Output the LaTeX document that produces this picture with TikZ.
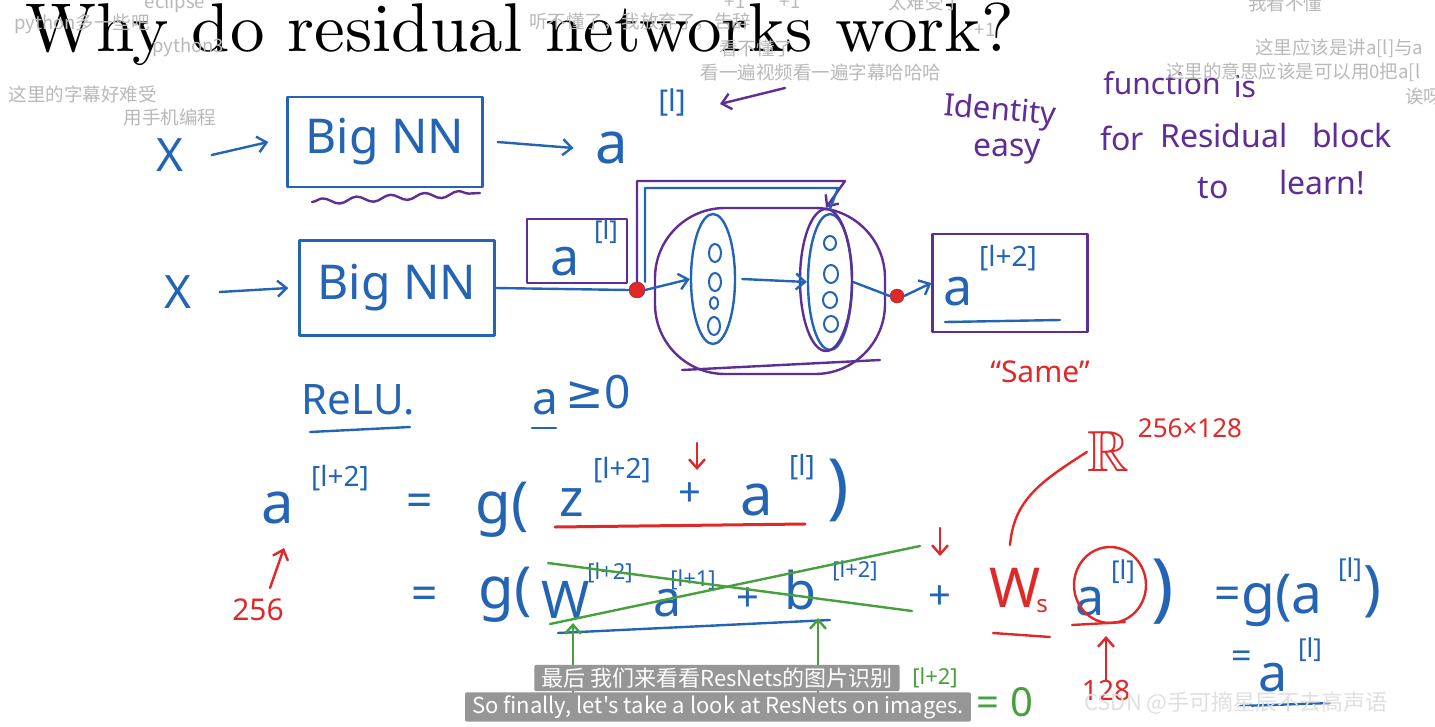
\documentclass[tikz,border=0pt]{standalone}
\usepackage{amssymb}
\usepackage{fontspec}
\usetikzlibrary{arrows.meta,decorations.pathmorphing,shapes.geometric}
\newfontfamily\cjk{Noto Sans CJK SC}
\newfontfamily\hand{Noto Sans}
\newfontfamily\symf{DejaVu Sans}
\newfontfamily\titlef{lmroman10-regular.otf}
\definecolor{ib}{RGB}{35,100,180}
\definecolor{ip}{RGB}{95,45,150}
\definecolor{ir}{RGB}{225,40,40}
\definecolor{ig}{RGB}{70,160,60}
\definecolor{dm}{RGB}{185,185,185}
\definecolor{subg}{RGB}{150,150,150}
\newcommand{\hs}[1]{\hand\fontsize{#1}{#1}\selectfont}
\begin{document}
\begin{tikzpicture}[x=1pt,y=-1pt,
  ink/.style={line width=2.4pt,line cap=round,line join=round},
  arr/.style={ink,-{Straight Barb[length=9pt,width=16pt,line width=2.4pt]}},
  hw/.style={inner sep=0pt,font=\hs{#1}},
  hw/.default=45,
  dmk/.style={inner sep=0pt,text=dm,font=\cjk\fontsize{18.5}{18.5}\selectfont},
  subbox/.style={fill=subg,rounded corners=2pt,text=white,inner xsep=7pt,inner ysep=3pt,font=\cjk\fontsize{22}{22}\selectfont},
  boxb/.style={draw=ib,ink,minimum width=#1,inner sep=0pt},
  reddot/.style={circle,fill=ir,draw=ir!70!black,minimum size=16pt,inner sep=0pt}
]
\fill[white] (0,0) rectangle (1435,726);
\useasboundingbox (0,0) rectangle (1435,726);

% title
\node[anchor=base west,inner sep=0pt,font=\titlef\fontsize{69}{69}\selectfont] (title) at (25,51) {Why do residual networks work?};

% ---------- row 1
\node[hw=46,text=ib] (x1) at (170,155) {X};
\node[boxb=195,minimum height=90,hw=48,text=ib] (bn1) at (385,142) {Big NN};
\draw[arr,ib] ([xshift=28pt]x1.east) -- ([xshift=-18pt]bn1.west);
\node[hw=58,text=ib] (a1) at (612,148) {a};
\node[hw=30,text=ib] (s1) at (672,102) {[l]};
\draw[arr,ib] ([xshift=14pt]bn1.east) -- ([xshift=-22pt]a1.west);
\draw[ink,ip,decorate,decoration={snake,amplitude=3pt,segment length=34pt}] (312,202) -- (480,193);
\coordinate (pa) at (785,88);
\draw[arr,ip] (pa) -- (720,104);

% ---------- row 2
\node[hw=46,text=ib] (x2) at (178,292) {X};
\node[boxb=195,minimum height=95,hw=48,text=ib] (bn2) at (397,288) {Big NN};
\draw[arr,ib] ([xshift=28pt]x2.east) -- ([xshift=-10pt]bn2.west);
\node[draw=ip,ink,minimum width=100,minimum height=64,inner sep=0pt] (albox) at (577,251) {};
\node[hw=52,text=ib] (al) at (565,262) {a};
\node[hw=26,text=ib] (sl) at (606,232) {[l]};
\node[reddot] (d1) at (637,290) {};
\node[ellipse,draw=ib,ink,minimum width=44,minimum height=130] (e1) at (713,279) {};
\node[ellipse,draw=ib,ink,minimum width=44,minimum height=136] (e2) at (830,282) {};
\node[ellipse,draw=ip,ink,minimum width=52,minimum height=142] (e2p) at (826,280) {};
\draw[ib,line width=2pt] (715,253) ellipse (6 and 9) (715,282) ellipse (6 and 9) (714,303) ellipse (4 and 6) (714,326) ellipse (6 and 9);
\draw[ib,line width=2pt] (830,243) ellipse (6 and 7) (831,274) ellipse (7 and 9) (830,300) ellipse (7 and 8) (831,324) ellipse (7 and 8);
\draw[ink,ip,rounded corners=70pt] (655,208) rectangle (885,374);
\draw[ink,ip] (682,370) -- (880,360);
\draw[ink,ib] (bn2.east) -- (d1.west);
\draw[arr,ib] (d1.east) -- (e1.west);
\draw[arr,ib] ([xshift=6pt]e1.east) -- (e2.west);
\node[reddot,minimum size=14pt] (d2) at (897,296) {};
\draw[ink,ib] (e2.east) -- (d2.west);
\node[draw=ip,ink,minimum width=155,minimum height=98,inner sep=0pt] (a2box) at (1010,283) {};
\draw[arr,ib] (d2.east) -- (a2box.west);
\node[hw=52,text=ib] (a2) at (958,292) {a};
\node[hw=28,text=ib] (s2) at (1008,258) {[l+2]};
\draw[ink,ib] (945,322) -- (1060,320);
\draw[arr,ip] (d1.north) |- (845,181) -- (e2p.north);
\draw[ink,ib] ([xshift=8pt]d1.north) |- (838,188) -- ([yshift=4pt]e2.north);
\node[hw=30,text=ir] (same) at (1040,372) {“Same”};

% purple note
\node[hw=31,text=ip,rotate=-5] (n1) at (1000,112) {Identity};
\node[hw=30,text=ip] (n2) at (1162,83) {function};
\node[hw=30,text=ip] (n3) at (1245,87) {is};
\node[hw=32,text=ip] (n4) at (1007,152) {easy};
\node[hw=32,text=ip] (n5) at (1122,138) {for};
\node[hw=32,text=ip] (n6) at (1224,135) {Residual};
\node[hw=32,text=ip] (n7) at (1352,135) {block};
\node[hw=32,text=ip] (n8) at (1213,188) {to};
\node[hw=32,text=ip] (n9) at (1322,183) {learn!};

% ReLU
\node[hw=42,text=ib] (relu) at (358,400) {ReLU.};
\draw[ink,ib] (310,432) -- (410,427);
\node[hw=46,text=ib] (ag) at (545,402) {a};
\node[hw=46,text=ib] (ge) at (598,392) {{\symf ≥}0};
\draw[ink,ib] (532,428) -- (556,428);

% ---------- equation 1
\node[hw=58,text=ib] (e1a) at (278,508) {a};
\node[hw=28,text=ib] (e1s) at (340,478) {[l+2]};
\node[hw=46,text=ib] (e1eq) at (420,505) {=};
\node[hw=58,text=ib] (e1g) at (502,510) {g(};
\node[hw=52,text=ib] (e1z) at (572,503) {z};
\node[hw=28,text=ib] (e1zs) at (622,470) {[l+2]};
\node[hw=40,text=ib] (e1p) at (690,495) {+};
\node[hw=58,text=ib] (e1a2) at (757,500) {a};
\node[hw=28,text=ib] (e1as) at (802,467) {[l]};
\node[hw=72,text=ib] (e1c) at (838,490) {)};
\draw[ink,ir,line width=3pt] (555,527) -- (805,524);
\coordinate (r1t) at (697,443);
\draw[arr,ir] (r1t) -- (697,470);
\node[hw=30,text=ir] (n256) at (258,610) {256};
\draw[arr,ir] (270,588) -- (284,548);

% ---------- equation 2
\node[hw=46,text=ib] (e2eq) at (425,598) {=};
\node[hw=58,text=ib] (e2g) at (505,595) {g(};
\node[hw=52,text=ib] (e2w) at (566,600) {W};
\node[hw=22,text=ib] (e2ws) at (610,573) {[l+2]};
\node[hw=50,text=ib] (e2a) at (668,603) {a};
\node[hw=22,text=ib] (e2as) at (693,580) {[l+1]};
\node[hw=40,text=ib] (e2p) at (748,600) {+};
\node[hw=52,text=ib] (e2b) at (800,590) {b};
\node[hw=22,text=ib] (e2bs) at (855,571) {[l+2]};
\draw[ink,ib] (558,633) -- (830,620);
\draw[ink,ig] (548,563) -- (912,611);
\draw[ink,ig] (550,624) -- (920,546);
\draw[arr,ig] (573,706) -- (573,623);
\draw[arr,ig] (818,706) -- (818,618);
\node[hw=22,text=ig] (gz) at (935,678) {[l+2]};
\node[hw=40,text=ig] (g0) at (1005,702) {= 0};
\node[hw=40,text=ib] (e2p2) at (940,598) {+};
\draw[arr,ir] (940,528) -- (940,556);
\node[hw=55,text=ir] (ws) at (1015,588) {W};
\node[hw=24,text=ir] (wss) at (1042,606) {s};
\draw[ink,ir] (993,633) -- (1050,637);
\node[hw=52,text=ib] (e2a2) at (1090,602) {a};
\node[hw=26,text=ib] (e2a2s) at (1123,572) {[l]};
\draw[ink,ir] (1110,585) ellipse (36 and 38);
\draw[ink,ir] (1072,625) -- (1125,622);
\node[hw=75,text=ib] (e2c) at (1163,592) {)};
\node[hw=28,text=ir] (n128) at (1106,690) {128};
\draw[arr,ir] (n128.north) -- (1106,636);
\node[inner sep=0pt,text=ir,font=\fontsize{58}{58}\selectfont] (RR) at (1108,452) {$\mathbb{R}$};
\node[hw=26,text=ir] (RRs) at (1190,428) {256×128};
\draw[ink,ir] (1010,545) .. controls (1014,500) and (1040,482) .. (RR.west);
\node[hw=46,text=ib] (e3eq) at (1228,598) {=};
\node[hw=55,text=ib] (e3g) at (1282,600) {g(a};
\node[hw=26,text=ib] (e3s) at (1350,570) {[l]};
\node[hw=60,text=ib] (e3c) at (1372,592) {)};
\node[hw=36,text=ib] (e4eq) at (1242,660) {=};
\node[hw=52,text=ib] (e4a) at (1273,678) {a};
\node[hw=26,text=ib] (e4s) at (1310,650) {[l]};
\draw[ink,ib] (1240,706) -- (1330,703);

% ---------- danmaku
\node[dmk] (d01) at (175,3) {eclipse};
\node[dmk] (d02) at (82,24) {python多一些吧};
\node[dmk] (d03) at (188,47) {python3};
\node[dmk] (d04) at (83,94) {这里的字幕好难受};
\node[dmk] (d05) at (170,117) {用手机编程};
\node[dmk] (d06) at (640,22) {听不懂了，我放弃了，告辞};
\node[dmk] (d07) at (735,2) {+1};
\node[dmk] (d08) at (790,2) {+1};
\node[dmk] (d09) at (925,2) {太难受了};
\node[dmk] (d10) at (985,30) {+1};
\node[dmk] (d11) at (756,48) {看不懂了};
\node[dmk] (d12) at (821,72) {看一遍视频看一遍字幕哈哈哈};
\node[dmk] (d13) at (1285,3) {我看不懂};
\node[dmk,anchor=west] (d14) at (1255,48) {这里应该是讲a[l]与a};
\node[dmk,anchor=west] (d15) at (1166,72) {这里的意思应该是可以用0把a[l};
\node[dmk,anchor=west] (d16) at (1405,96) {诶呀};

% ---------- subtitles / watermark
\node[subbox] (sub1) at (717,678) {最后 我们来看看ResNets的图片识别};
\node[subbox] (sub2) at (718,707) {So finally, let's take a look at ResNets on images.};
\node[inner sep=0pt,text=black!12,font=\cjk\fontsize{22}{22}\selectfont] (wm) at (1236,703) {CSDN @手可摘星辰不去高声语};
\end{tikzpicture}
\end{document}
